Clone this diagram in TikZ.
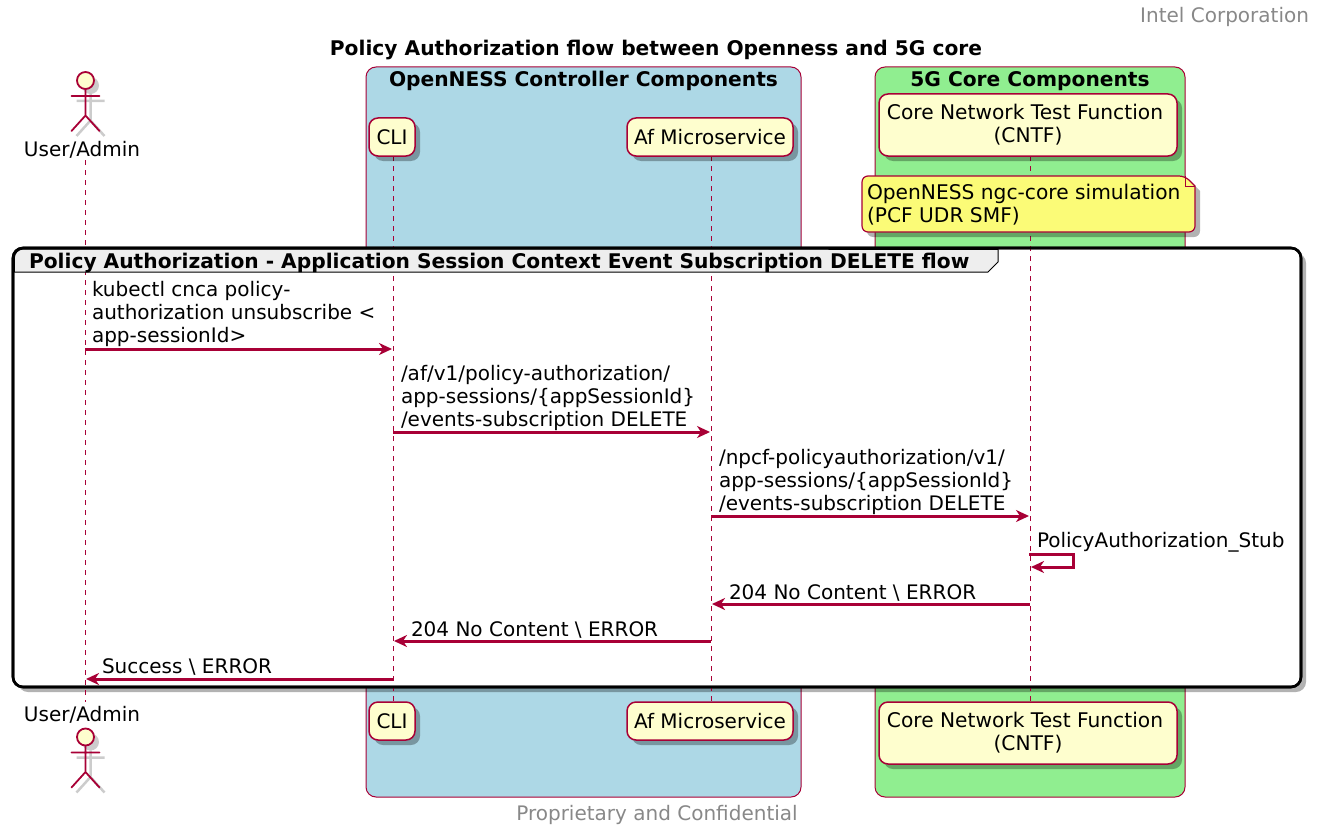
\documentclass[tikz,border=0pt]{standalone}
\usepackage{fontspec}
\setmainfont{DejaVu Sans}
\usetikzlibrary{arrows.meta,shadows}
\definecolor{umlred}{HTML}{A80036}
\definecolor{partfill}{HTML}{FEFECE}
\definecolor{notefill}{HTML}{FBFB77}
\definecolor{boxblue}{HTML}{ADD8E6}
\definecolor{boxgreen}{HTML}{90EE90}
\definecolor{tabfill}{HTML}{EEEEEE}
\definecolor{footgray}{HTML}{888888}
\tikzset{
  x=1pt,y=-1pt,
  every node/.style={inner sep=0pt,outer sep=0pt,font=\fontsize{20}{23}\selectfont},
  softshadow/.style={drop shadow={shadow xshift=5pt,shadow yshift=-5pt,opacity=.3,fill=black}},
  part/.style={draw=umlred,fill=partfill,line width=1.5pt,rounded corners=9pt,align=center,softshadow},
  actorlabel/.style={align=center},
  boxframe/.style={draw=umlred,line width=1pt,rounded corners=10pt},
  boldtext/.style={font=\fontsize{20.2}{23}\selectfont\bfseries},
  widetext/.style={font=\fontsize{20.2}{23}\selectfont},
  life/.style={draw=umlred,line width=1pt,dash pattern=on 5pt off 5pt},
  msg/.style={draw=umlred,line width=3pt,-{Stealth[length=13pt,width=12pt,inset=4pt]}},
  msgtext/.style={anchor=west,align=left},
  foot/.style={text=footgray},
  actorline/.style={draw=umlred,line width=1.8pt,line cap=round},
}
\newcommand{\actorfig}[2]{% x, head-centre y
  \begin{scope}[shift={(#1,#2)}]
    \begin{scope}[shift={(5,5)},draw opacity=.2,fill opacity=.2]
      \fill[black] (0,0) circle (8.5);
      \draw[black,line width=2.5pt] (0,8.5) -- (0,35) (-14,15.5) -- (14,15.5) (-14,50.5) -- (0,35) -- (14,50.5);
    \end{scope}
    \draw[actorline] (0,8.5) -- (0,35) (-14,15.5) -- (14,15.5) (-14,50.5) -- (0,35) -- (14,50.5);
    \draw[draw=umlred,fill=partfill,line width=1.8pt] (0,0) circle (8.5);
  \end{scope}}
\begin{document}
\begin{tikzpicture}
\useasboundingbox (0,0) rectangle (1321,832);
% footers and title
\node[foot,anchor=east] (hdr) at (1309,17) {Intel Corporation};
\node[boldtext] (title) at (656,50) {Policy Authorization flow between Openness and 5G core};
\node[foot] (ftr) at (657,815) {Proprietary and Confidential};
% coloured boxes
\path[boxframe,fill=boxblue] (366,67) rectangle (801,797);
\path[boxframe,fill=boxgreen] (875,67) rectangle (1185,797);
\node[boldtext] (bt1) at (583.5,81) {OpenNESS Controller Components};
\node[boldtext] (bt2) at (1030,81) {5G Core Components};
% group body
\path[draw=black,fill=white,line width=2.6pt,rounded corners=10pt,softshadow] (13,248) rectangle (1301,687);
% lifeline ends
\coordinate (a1) at (85,160); \coordinate (a2) at (85,702);
\coordinate (c1) at (393,156); \coordinate (c2) at (393,702);
\coordinate (f1) at (711,156); \coordinate (f2) at (711,702);
\coordinate (n1) at (1030,156); \coordinate (n2) at (1030,702);
\draw[life] (a1) -- (a2);
\draw[life] (c1) -- (c2);
\draw[life] (f1) -- (f2);
\draw[life] (n1) -- (n2);
% group tab
\path[draw=black,fill=tabfill,line width=1pt,rounded corners=0pt]
  (14.3,272) -- (14.3,258) arc[start angle=180,end angle=270,radius=9] -- (998,249.3) -- (998,262) -- (988,272) -- cycle;
\path[draw=black,line width=2.6pt,rounded corners=10pt] (13,248) rectangle (1301,687);
\node[anchor=west,boldtext] (gt) at (29,263) {Policy Authorization - Application Session Context Event Subscription DELETE flow};
% actors
\actorfig{85.5}{80.5}
\node[actorlabel] (ua1) at (82,150) {User/Admin};
\actorfig{85.5}{737}
\node[actorlabel] (ua2) at (82,715) {User/Admin};
% participants
\node[part,minimum width=46pt,minimum height=38pt] (cli1) at (392,137) {CLI};
\node[part,minimum width=166pt,minimum height=38pt] (af1) at (710,137) {Af Microservice};
\node[part,widetext,minimum width=298pt,minimum height=62pt] (cn1) at (1028,125) {Core Network Test Function\hspace*{6pt}\\(CNTF)};
\node[part,minimum width=46pt,minimum height=38pt] (cli2) at (392,721) {CLI};
\node[part,minimum width=166pt,minimum height=38pt] (af2) at (710,721) {Af Microservice};
\node[part,widetext,minimum width=298pt,minimum height=62pt] (cn2) at (1028,733) {Core Network Test Function\hspace*{6pt}\\(CNTF)};
% note
\path[draw=umlred,fill=notefill,line width=1.2pt,rounded corners=6pt,softshadow]
  (862,204) -- (862,176) -- (1185,176) [sharp corners] -- (1195,186) [rounded corners=6pt] -- (1195,232) -- (862,232) -- cycle;
\path[draw=umlred,line width=1pt] (1185,176) -- (1185,186) -- (1195,186);
\node[anchor=west,align=left,widetext] (note) at (867,205) {OpenNESS ngc-core simulation\\(PCF UDR SMF)};
% messages
\coordinate (m1s) at (85,349); \coordinate (m1e) at (392,349);
\coordinate (m2s) at (393,432); \coordinate (m2e) at (710,432);
\coordinate (m3s) at (711,516); \coordinate (m3e) at (1029,516);
\coordinate (m4s) at (1029,554); \coordinate (m4c) at (1073,554); \coordinate (m4d) at (1073,567); \coordinate (m4e) at (1031,567);
\coordinate (m5s) at (1030,604); \coordinate (m5e) at (712,604);
\coordinate (m6s) at (711,641); \coordinate (m6e) at (394,641);
\coordinate (m7s) at (393,679); \coordinate (m7e) at (86,679);
\draw[msg] (m1s) -- (m1e);
\draw[msg] (m2s) -- (m2e);
\draw[msg] (m3s) -- (m3e);
\draw[msg] (m4s) -- (m4c) -- (m4d) -- (m4e);
\draw[msg] (m5s) -- (m5e);
\draw[msg] (m6s) -- (m6e);
\draw[msg] (m7s) -- (m7e);
\node[msgtext] (t1) at (92,314) {kubectl cnca policy-\\authorization unsubscribe <\\app-sessionId>};
\node[msgtext] (t2) at (401,398) {/af/v1/policy-authorization/\\app-sessions/\{appSessionId\}\\/events-subscription DELETE};
\node[msgtext] (t3) at (719,482) {/npcf-policyauthorization/v1/\\app-sessions/\{appSessionId\}\\/events-subscription DELETE};
\node[msgtext] (t4) at (1037,542) {PolicyAuthorization\_Stub};
\node[msgtext] (t5) at (729,593) {204 No Content \textbackslash{} ERROR};
\node[msgtext] (t6) at (411,630) {204 No Content \textbackslash{} ERROR};
\node[msgtext] (t7) at (102,667) {Success \textbackslash{} ERROR};
\end{tikzpicture}
\end{document}
